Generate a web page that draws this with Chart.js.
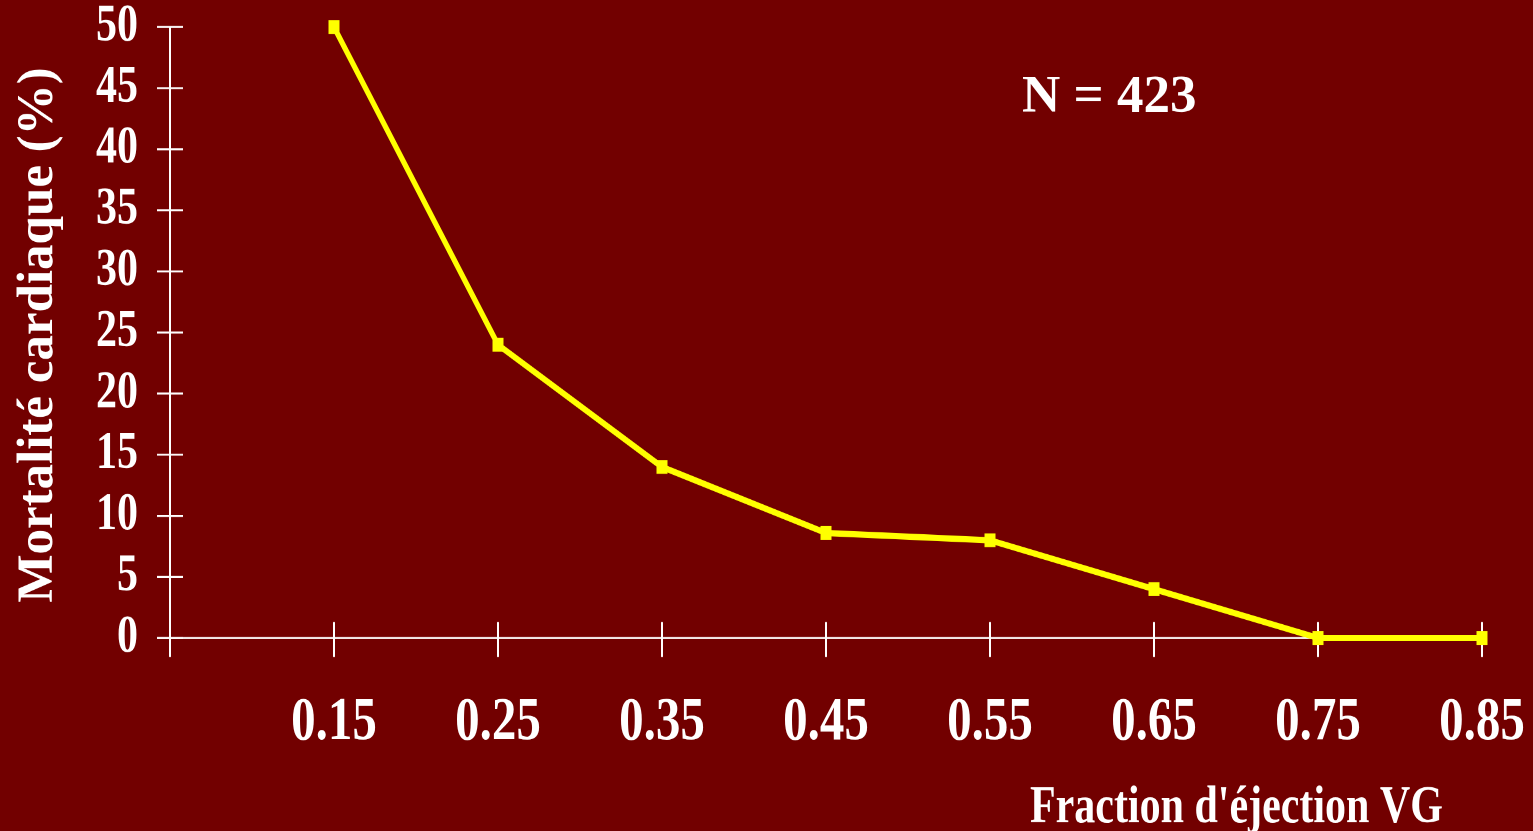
<!DOCTYPE html>
<html><head><meta charset="utf-8">
<style>
html,body{margin:0;padding:0;background:#720000;overflow:hidden}
canvas{display:block}
</style>
<script src="https://cdn.jsdelivr.net/npm/chart.js@4/dist/chart.umd.min.js"></script>
</head><body>
<canvas id="c" width="1533" height="665" style="width:1533px;height:831px"></canvas>
<script>
const categories = ['0.15','0.25','0.35','0.45','0.55','0.65','0.75','0.85'];
const mortality = [50, 24, 14, 8.6, 8.0, 4, 0, 0];
const yMin = 0, yMax = 50, yStep = 5;
const yTitle = 'Mortalité cardiaque (%)';
const xTitle = "Fraction d'éjection VG";
const note = 'N = 423';

const S = 831 / 665; // vertical stretch of the picture
const FAM = "'Liberation Serif','Times New Roman',serif";
const labels = [''].concat(categories);
const values = [null].concat(mortality);

function noPad(scale) {
  scale.paddingTop = 0; scale.paddingBottom = 0;
  scale.paddingLeft = 0; scale.paddingRight = 0;
}

const axesPlugin = {
  id: 'axesPlugin',
  beforeDatasetsDraw(chart) {
    const ctx = chart.ctx, xs = chart.scales.x, ys = chart.scales.y;
    const y0 = ys.getPixelForValue(yMin);
    const x0 = xs.getPixelForValue(0);
    ctx.save();
    ctx.strokeStyle = '#ffffff';
    ctx.lineWidth = 2;
    ctx.beginPath();
    ctx.moveTo(x0, ys.getPixelForValue(yMax));
    ctx.lineTo(x0, y0 + 15.2);
    ctx.stroke();
    for (let i = 1; i < labels.length; i++) {
      const px = xs.getPixelForValue(i);
      ctx.beginPath();
      ctx.moveTo(px, y0 - 12.8);
      ctx.lineTo(px, y0 + 15.2);
      ctx.stroke();
    }
    ctx.lineWidth = 1.6;
    ctx.beginPath();
    ctx.moveTo(x0 - 13, y0);
    ctx.lineTo(xs.getPixelForValue(labels.length - 1), y0);
    ctx.stroke();
    ys.ticks.forEach(t => {
      const py = ys.getPixelForValue(t.value);
      ctx.beginPath();
      ctx.moveTo(x0 - 13, py);
      ctx.lineTo(x0 + 13, py);
      ctx.stroke();
    });
    ctx.restore();
  },
  afterDraw(chart) {
    const ctx = chart.ctx;
    ctx.save();
    ctx.fillStyle = '#ffffff';
    ctx.font = 'bold 42px ' + FAM;
    ctx.textAlign = 'left';
    ctx.textBaseline = 'alphabetic';
    ctx.fillText(xTitle, 1030, 822 / S);
    ctx.scale(1, 1 / S);
    ctx.font = 'bold 53px ' + FAM;
    ctx.fillText(note, 1022, 112);
    ctx.translate(52, 335);
    ctx.rotate(-Math.PI / 2);
    ctx.textAlign = 'center';
    ctx.font = 'bold 51px ' + FAM;
    ctx.fillText(yTitle, 0, 0);
    ctx.restore();
  }
};

new Chart(document.getElementById('c'), {
  type: 'line',
  data: {
    labels: labels,
    datasets: [{
      data: values,
      borderColor: '#ffff00',
      backgroundColor: '#ffff00',
      borderWidth: 5,
      pointStyle: 'rect',
      pointRadius: 7.8,
      pointBorderWidth: 0,
      pointBackgroundColor: '#ffff00',
      tension: 0,
      spanGaps: false,
      clip: false
    }]
  },
  options: {
    responsive: false,
    devicePixelRatio: 2,
    animation: false,
    events: [],
    layout: { padding: { top: 27 / S, right: 51, left: 0, bottom: 0 } },
    plugins: { legend: { display: false }, tooltip: { enabled: false } },
    scales: {
      x: {
        type: 'category',
        offset: false,
        grid: { display: false, drawTicks: false },
        border: { display: false },
        ticks: {
          color: '#ffffff',
          font: { family: FAM, size: 49, weight: 'bold', lineHeight: 1.2 },
          padding: 39,
          maxRotation: 0,
          autoSkip: false
        },
        afterFit(scale) { scale.height = 665 - 638 / S; noPad(scale); }
      },
      y: {
        min: yMin, max: yMax,
        grid: { display: false, drawTicks: false },
        border: { display: false },
        ticks: {
          stepSize: yStep,
          color: '#ffffff',
          font: { family: FAM, size: 42, weight: 'bold', lineHeight: 1 },
          padding: 32
        },
        afterFit(scale) { scale.width = 170; noPad(scale); }
      }
    }
  },
  plugins: [axesPlugin]
});
</script>
</body></html>
